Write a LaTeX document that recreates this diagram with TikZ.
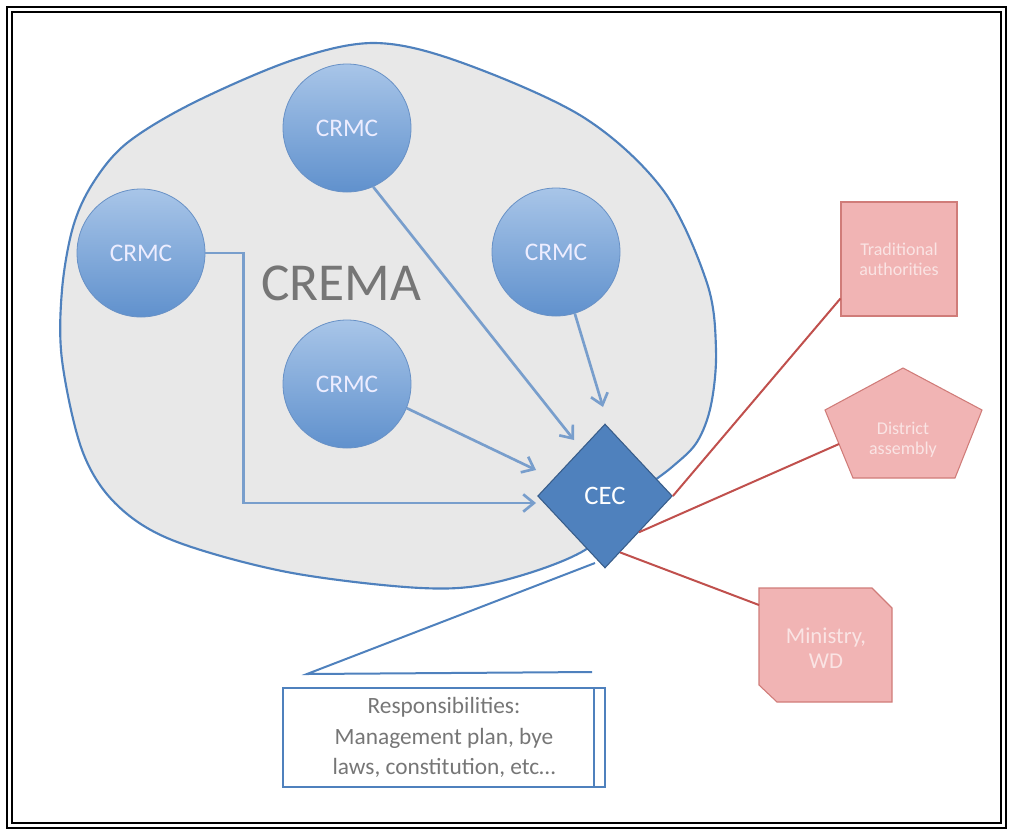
\documentclass[tikz,border=0pt]{standalone}
\usepackage{fontspec}
\setmainfont{Carlito}
\usetikzlibrary{shapes.geometric,arrows.meta,positioning,calc}
\definecolor{cremafill}{RGB}{232,232,232}
\definecolor{cremaline}{RGB}{79,129,189}
\definecolor{crmctop}{RGB}{168,197,232}
\definecolor{crmcbot}{RGB}{96,145,205}
\definecolor{crmcline}{RGB}{104,145,198}
\definecolor{arrowblue}{RGB}{120,158,204}
\definecolor{cecfill}{RGB}{79,129,189}
\definecolor{cecline}{RGB}{56,93,138}
\definecolor{partfill}{RGB}{241,180,180}
\definecolor{partline}{RGB}{192,80,77}
\definecolor{parttext}{RGB}{250,228,228}
\definecolor{labelgray}{RGB}{118,118,118}

\begin{document}
\begin{tikzpicture}[x=0.75pt, y=-0.75pt, >={Straight Barb[length=8pt,width=13pt]},
  crmc/.style={circle, draw=crmcline, line width=0.6pt, top color=crmctop, bottom color=crmcbot, minimum size=96pt, text=white!93!blue, font=\fontsize{19}{22}\selectfont},
  feed/.style={->, draw=arrowblue, line width=2pt},
  partner/.style={draw=partline!75, line width=0.8pt, fill=partfill},
  partlink/.style={draw=partline, line width=1.5pt},
  parttxt/.style={text=parttext, align=center, font=\fontsize{13.5}{15}\selectfont}]
\useasboundingbox (0,0) rectangle (1010,829);
% frame
\draw[line width=1.5pt] (7,7) rectangle (1006,828);
\draw[line width=1.5pt] (12,12) rectangle (1001,823);

% the CREMA area
\draw[draw=cremaline, line width=1.6pt, fill=cremafill] plot[smooth cycle, tension=0.55] coordinates {
  (375,43) (460,62) (583,117) (663,190) (707,283) (716,350) (711,405) (697,442) (672,467) (630,500)
  (585,550) (497,582) (421,588) (287,572) (172,540) (115,503) (82,450) (62,360) (62,290)
  (73,227) (93,183) (127,143) (193,103) (293,60)};
\node[text=labelgray, font=\fontsize{40}{44}\selectfont] (crema) at (341,283) {CREMA};

% committees
\node[crmc] (c1) at (347,128) {CRMC};
\node[crmc] (c2) at (141,253) {CRMC};
\node[crmc] (c3) at (556,252) {CRMC};
\node[crmc] (c4) at (347,384) {CRMC};
\node[diamond, draw=cecline, line width=0.8pt, fill=cecfill, minimum width=101pt, minimum height=108pt, inner sep=0pt, text=white, font=\fontsize{20}{24}\selectfont] (cec) at (605,496) {CEC};

\coordinate (in1) at (574,440);
\coordinate (in2) at (603,407);
\coordinate (in3) at (536,470);
\coordinate (in4) at (536,503);
\draw[feed] (c1.-66) -- (in1);
\draw[feed] (c3.-73) -- (in2);
\draw[feed] (c4.-22) -- (in3);
\draw[feed] (c2.east) -- ++(38,0) |- (in4);

% partners
\node[partner, parttxt, minimum width=87pt, minimum height=85.5pt] (ta) at (899,259) {Traditional\\authorities};
\draw[partner] (903,368) -- (982,410) -- (955,478) -- (853,478) -- (825,410) -- cycle;
\node[parttxt] (da) at (903,440) {District\\assembly};
\draw[partner] (759,588) -- (872,588) -- (892,608) -- (892,702) -- (777,702) -- (759,685) -- cycle;
\node[parttxt, font=\fontsize{17}{19}\selectfont] (mwd) at (826,648) {Ministry,\\WD};
\coordinate (da1) at (839,444);
\coordinate (mw1) at (759,605);
\draw[partlink] (cec.east) -- (ta.214);
\draw[partlink] (cec.south east) -- (da1);
\draw[partlink] (cec.-75) -- (mw1);

% responsibilities callout
\node[draw=cremaline, line width=1.5pt, minimum width=241.5pt, minimum height=74.25pt, text=labelgray, align=center, font=\fontsize{17.5}{23}\selectfont] (resp) at (444,737.5) {Responsibilities:\\Management plan, bye\\laws, constitution, etc\dots};
\draw[draw=cremaline, line width=1.5pt] ($(resp.north east)+(-12,0)$) -- ($(resp.south east)+(-12,0)$);
\coordinate (call1) at (595,563);
\coordinate (call2) at (307,674);
\coordinate (call3) at (592,672);
\draw[draw=cremaline, line width=1.5pt] (call1) -- (call2) -- (call3);
\end{tikzpicture}
\end{document}
